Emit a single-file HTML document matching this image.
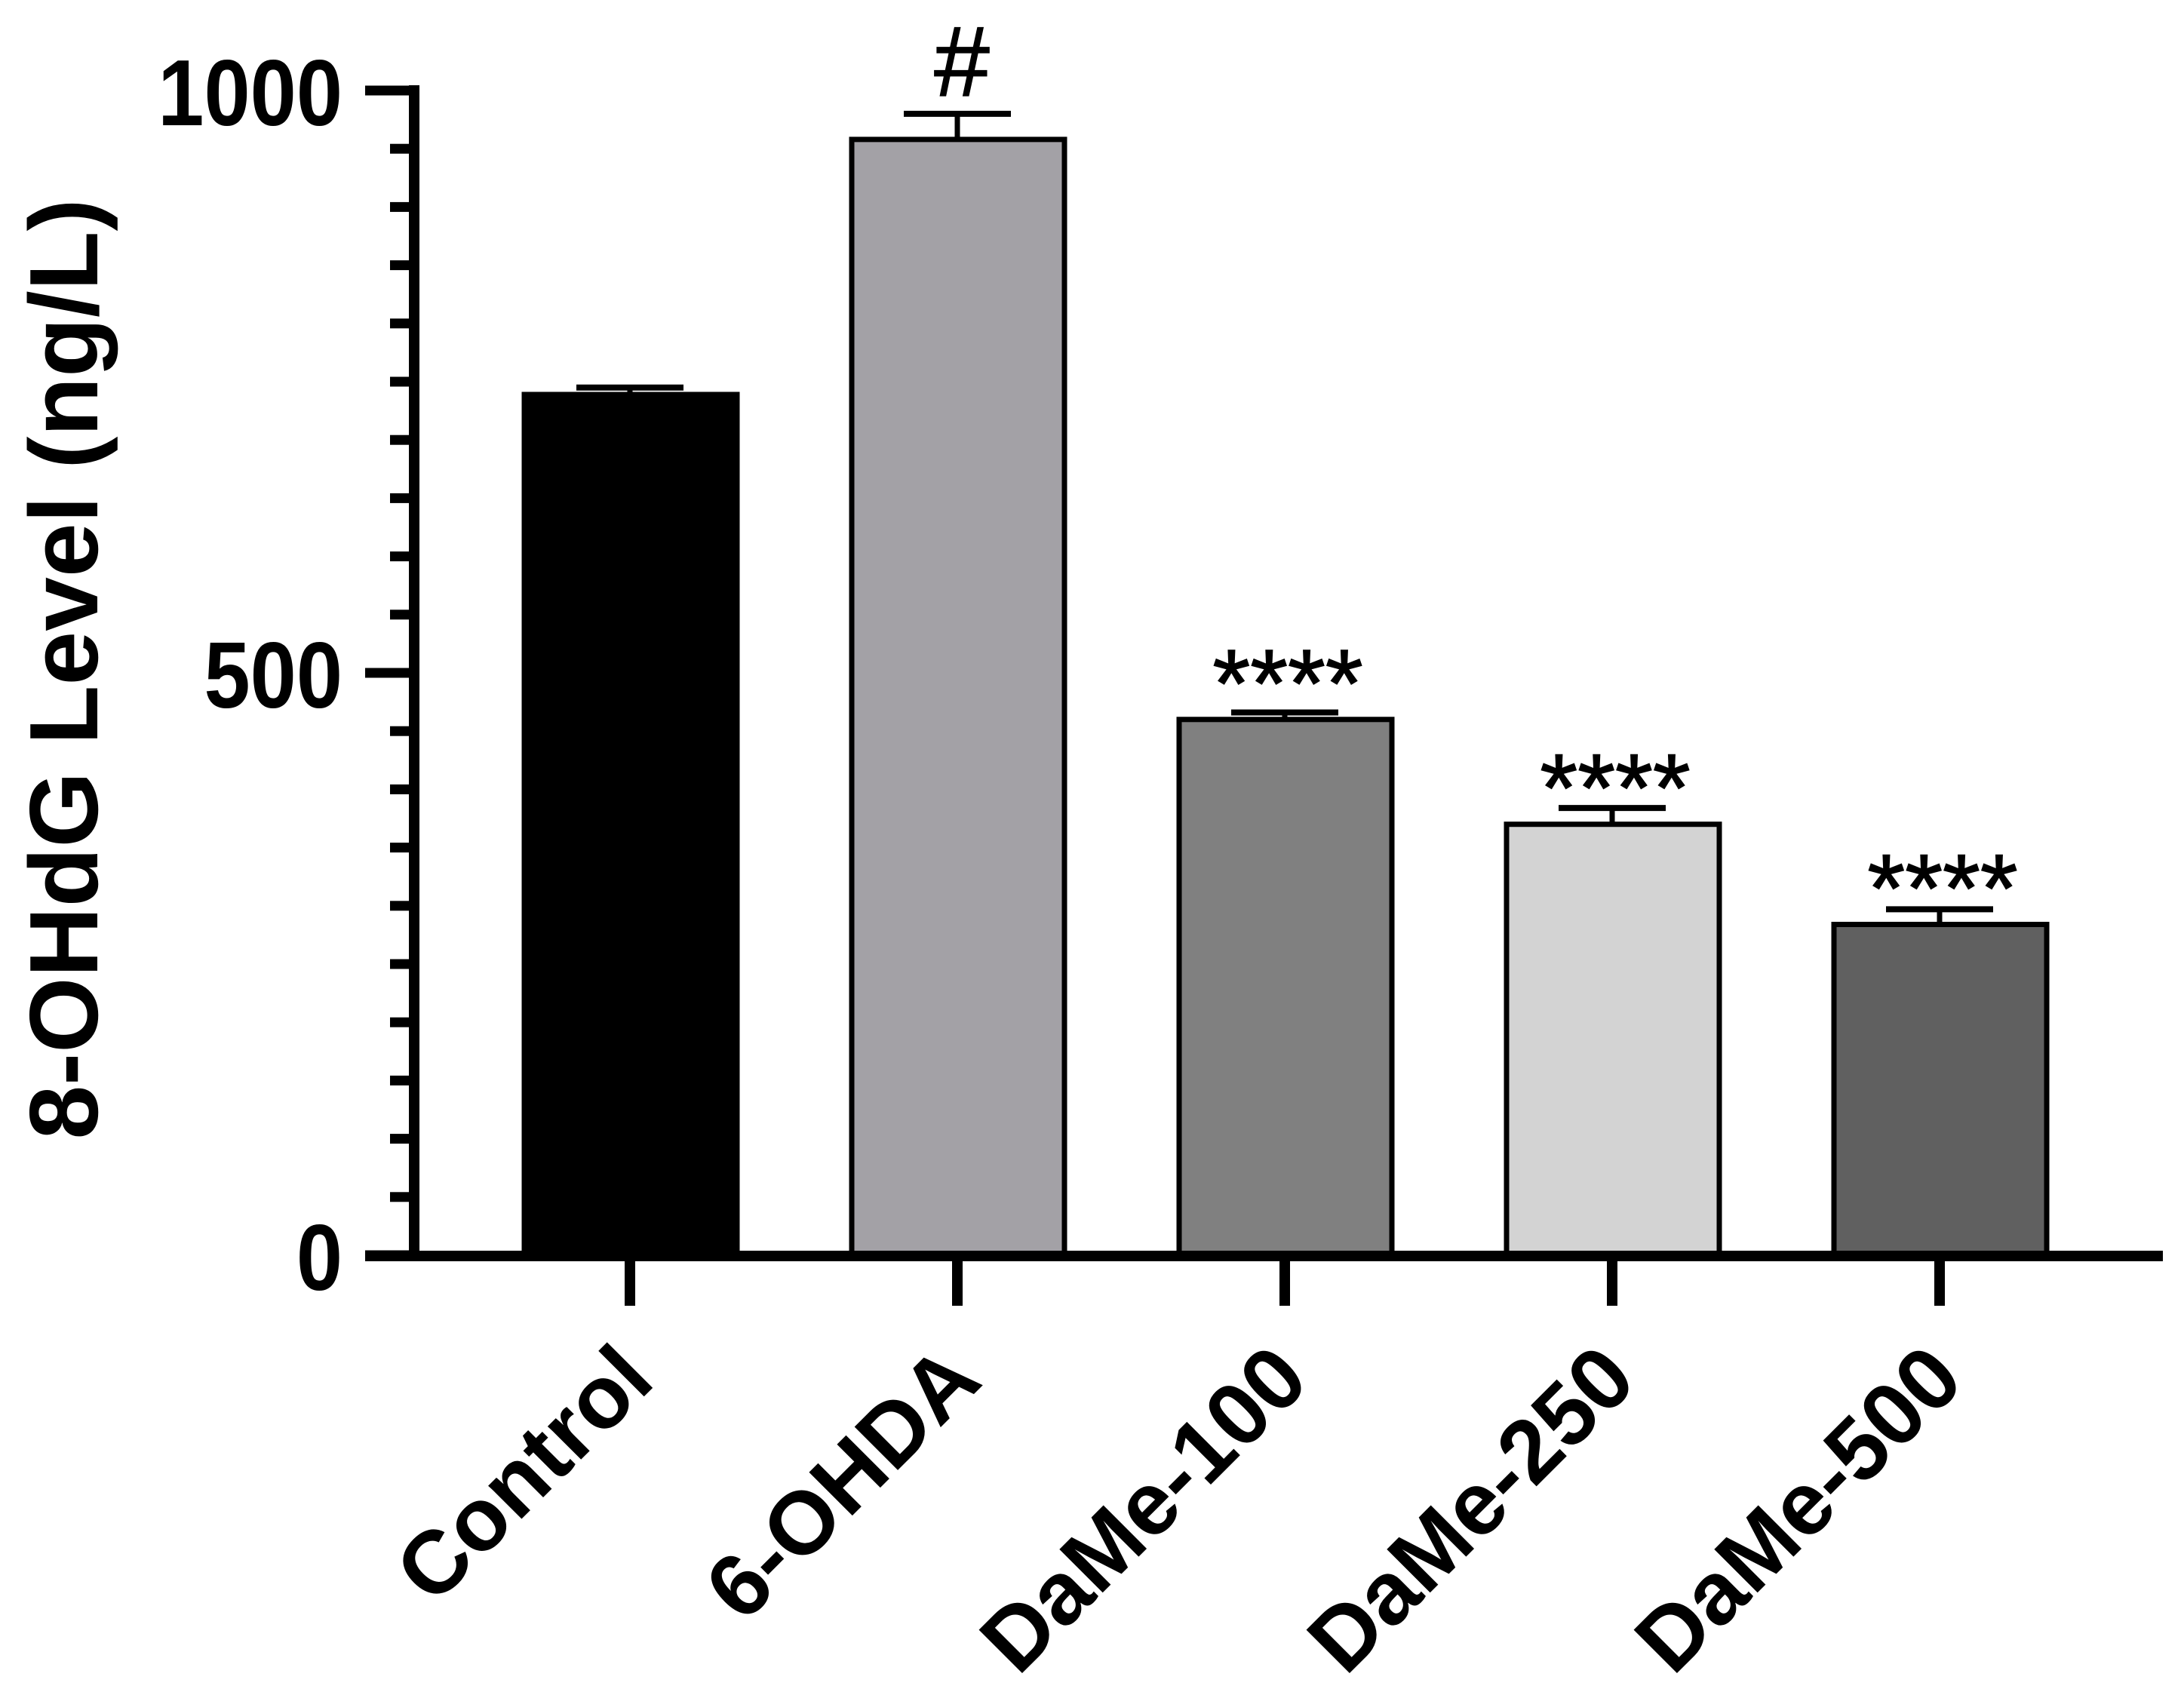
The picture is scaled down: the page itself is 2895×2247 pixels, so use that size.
<!DOCTYPE html>
<html lang="en">
<head>
<meta charset="utf-8">
<title>8-OHdG Level</title>
<style>
html,body{margin:0;padding:0;background:#fff;}
svg{display:block;}
text{font-family:"Liberation Sans",sans-serif;fill:#000;}
.bold{font-weight:700;}
</style>
</head>
<body>
<svg id="chart" width="2895" height="2247" viewBox="0 0 2895 2247" xmlns="http://www.w3.org/2000/svg">
  <rect width="2895" height="2247" fill="#fff"/>
  <g id="bars"></g>
  <g id="axes"></g>
  <text class="bold" font-size="129" text-anchor="middle" transform="translate(129,887) rotate(-90)">8-OHdG Level (ng/L)</text>
</svg>
<script>
var categories = ["Control", "6-OHDA", "DaMe-100", "DaMe-250", "DaMe-500"];
var means = [739, 958, 460, 370, 284];
var errors = [6, 22, 6, 14, 13];
var significance = ["", "#", "****", "****", "****"];
var fills = ["#000000", "#a3a1a6", "#808080", "#d3d3d3", "#606060"];
var yTickLabels = [0, 500, 1000];
var yMax = 1000;
var yMinorStep = 50;

function yScale(v) { return 1664 - (v / yMax) * 1544; }
function xScale(i) { return 835 + 434 * i; }

var NS = "http://www.w3.org/2000/svg";
function make(tag, parent, attrs) {
  var el = document.createElementNS(NS, tag);
  for (var k in attrs) el.setAttribute(k, attrs[k]);
  parent.appendChild(el);
  return el;
}
var barsG = document.getElementById("bars");
var axesG = document.getElementById("axes");

categories.forEach(function (cat, i) {
  var cx = xScale(i), top = yScale(means[i]), errTop = yScale(means[i] + errors[i]);
  var slug = cat.toLowerCase();

  var stem = make("line", barsG, {x1: cx, x2: cx, y1: top, y2: errTop, stroke: "#000", "stroke-width": 7});
  
  

  var cap = make("line", barsG, {x1: cx - 71, x2: cx + 71, y1: errTop, y2: errTop, stroke: "#000", "stroke-width": 8});
  
  

  var bar = make("rect", barsG, {x: cx - 140, y: top, width: 282, height: yScale(0) - top, fill: fills[i], stroke: "#000", "stroke-width": 7});
  
  

  var tick = make("rect", axesG, {x: cx - 7, y: yScale(0), width: 14, height: 67, fill: "#000"});
  
  

  var label = make("text", axesG, {"class": "bold", "font-size": 118, "text-anchor": "end", transform: "translate(" + (cx + 36) + ",1834) rotate(-45)"});
  label.textContent = cat;
  
  

  if (significance[i]) {
    var isHash = significance[i] === "#";
    var mark = make("text", barsG, {"font-size": isHash ? 132 : 128, "text-anchor": "middle", x: cx + (isHash ? 6 : 4), y: isHash ? errTop - 24 : top - 4, stroke: "#000", "stroke-width": 1.5});
    mark.textContent = significance[i];
    
    
  }
});

var yAxis = make("rect", axesG, {x: 542, y: 113, width: 14, height: 1557, fill: "#000"});



var xAxis = make("rect", axesG, {x: 484, y: 1658, width: 2383, height: 14, fill: "#000"});



for (var v = 0; v <= yMax; v += yMinorStep) {
  var major = yTickLabels.indexOf(v) >= 0;
  var w = major ? 60 : 27;
  var t = make("rect", axesG, {x: 544 - w, y: yScale(v) - 6.5, width: w, height: 13, fill: "#000"});
  
  
}

yTickLabels.forEach(function (val) {
  var lab = make("text", axesG, {"class": "bold", "font-size": 110, "text-anchor": "end", transform: "translate(454," + (yScale(val) + 46) + ") scale(1,1.13)"});
  lab.textContent = val;
  
  
});
</script>
</body>
</html>
